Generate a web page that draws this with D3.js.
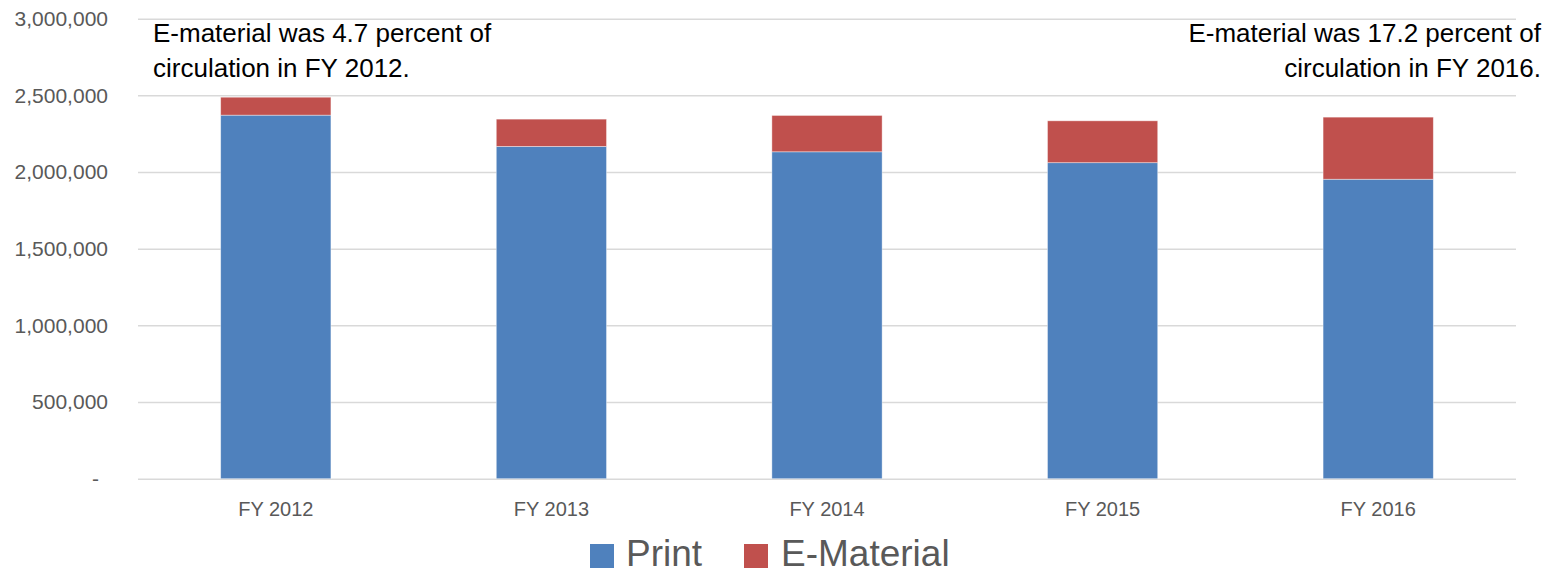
<!DOCTYPE html>
<html>
<head>
<meta charset="utf-8">
<script src="https://cdn.jsdelivr.net/npm/d3@7"></script>
<style>
  html, body { margin: 0; padding: 0; background: #fff; }
  svg { display: block; font-family: "Liberation Sans", Arial, sans-serif; }
</style>
</head>
<body>
<svg id="chart" width="1556" height="573"></svg>
<script>
const categories = ["FY 2012", "FY 2013", "FY 2014", "FY 2015", "FY 2016"];
const printValues = [2371000, 2167000, 2132000, 2061000, 1953000];
const eMaterialValues = [117000, 178000, 237000, 273000, 405000];
const seriesNames = ["Print", "E-Material"];
const seriesColors = ["#4F81BD", "#C0504D"];
const yTicks = [0, 500000, 1000000, 1500000, 2000000, 2500000, 3000000];
const noteLeft = ["E-material was 4.7 percent of", "circulation in FY 2012."];
const noteRight = ["E-material was 17.2 percent of", "circulation in FY 2016."];

const svg = d3.select("#chart");
const plotLeft = 138, plotRight = 1516, plotTop = 18.7, plotBottom = 478.7;

const x = d3.scaleBand().domain(categories).range([plotLeft, plotRight]).paddingInner(0.6).paddingOuter(0.3);
const y = d3.scaleLinear().domain([0, 3000000]).range([plotBottom, plotTop]);

// gridlines
svg.append("g")
  .attr("transform", `translate(${plotLeft},0)`)
  .call(d3.axisLeft(y).tickValues(yTicks).tickSize(-(plotRight - plotLeft)).tickFormat(""))
  .call(g => g.select(".domain").remove())
  .call(g => g.selectAll(".tick line").attr("stroke", "#d9d9d9").attr("stroke-width", 1.5));

// y labels
const yAxis = svg.append("g")
  .attr("transform", `translate(${plotLeft},0)`)
  .call(d3.axisLeft(y).tickValues(yTicks).tickSize(0).tickPadding(30)
    .tickFormat(d => d === 0 ? "-" : d3.format(",")(d)))
  .call(g => g.select(".domain").remove());
yAxis.selectAll(".tick text")
  .attr("font-family", "Liberation Sans, Arial, sans-serif")
  .attr("font-size", 21)
  .attr("fill", "#595959")
  .attr("dx", d => d === 0 ? -9 : 0);

// stacked data
const rows = categories.map((c, i) => ({ cat: c, Print: printValues[i], "E-Material": eMaterialValues[i] }));
const stack = d3.stack().keys(seriesNames)(rows);

svg.append("g").selectAll("g").data(stack).join("g")
  .attr("fill", (d, i) => seriesColors[i])
  .selectAll("rect").data(d => d).join("rect")
  .attr("x", d => x(d.data.cat))
  .attr("width", x.bandwidth())
  .attr("y", d => y(d[1]))
  .attr("height", d => y(d[0]) - y(d[1]))
  .attr("stroke", "#ffffff")
  .attr("stroke-opacity", 0.5)
  .attr("stroke-width", 0.8);

// x labels
const xAxis = svg.append("g")
  .attr("transform", `translate(0,${plotBottom})`)
  .call(d3.axisBottom(x).tickSize(0).tickPadding(23))
  .call(g => g.select(".domain").remove());
xAxis.selectAll(".tick text")
  .attr("font-family", "Liberation Sans, Arial, sans-serif")
  .attr("font-size", 20)
  .attr("fill", "#595959");

// annotations
const noteL = svg.append("text")
  .attr("x", 153).attr("y", 41.5)
  .attr("font-size", 26).attr("fill", "#000");
noteLeft.forEach((t, i) => noteL.append("tspan").attr("x", 153).attr("dy", i === 0 ? 0 : 35).text(t));

const noteR = svg.append("text")
  .attr("x", 1541).attr("y", 41.5).attr("text-anchor", "end")
  .attr("font-size", 26).attr("fill", "#000");
noteRight.forEach((t, i) => noteR.append("tspan").attr("x", 1541).attr("dy", i === 0 ? 0 : 35).text(t));

// legend
const legendItems = [
  { name: seriesNames[0], color: seriesColors[0], sx: 590, tx: 626 },
  { name: seriesNames[1], color: seriesColors[1], sx: 744, tx: 781 }
];
const lg = svg.append("g");
legendItems.forEach(it => {
  lg.append("rect").attr("x", it.sx).attr("y", 544).attr("width", 24).attr("height", 24).attr("fill", it.color);
  lg.append("text").attr("x", it.tx).attr("y", 566).attr("font-size", 37).attr("fill", "#595959").text(it.name);
});
</script>
</body>
</html>
